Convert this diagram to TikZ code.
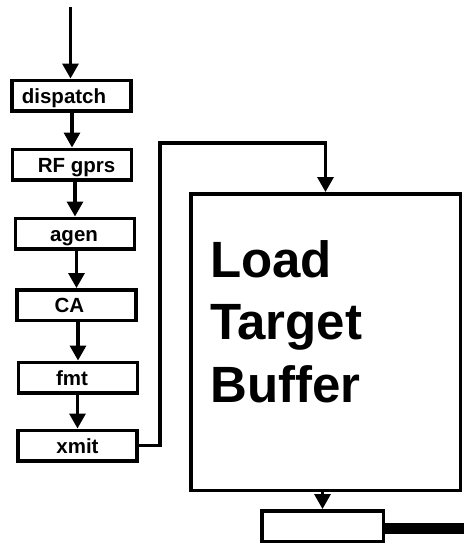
\documentclass[tikz,border=0pt]{standalone}
\usepackage{fontspec}
\setmainfont{Liberation Sans}
\usetikzlibrary{arrows.meta}
\begin{document}
\begin{tikzpicture}[x=1pt,y=-1pt,
  stagebox/.style={draw, line width=3.5pt, inner sep=0pt,
    minimum width=119pt, minimum height=30.5pt},
  stagetext/.style={inner sep=0pt, text height=15pt, text depth=0pt,
    font=\bfseries\fontsize{20.5}{24}\selectfont},
  flow/.style={line width=3.2pt, -{Triangle[length=15pt,width=16pt]}},
  wire/.style={line width=3pt}]
\useasboundingbox (0,0) rectangle (464,544);

% pipeline stages
\node[stagebox, label={[stagetext,xshift=-7.5pt]center:dispatch}] (dispatch) at (71.5,95.5) {};
\node[stagebox, label={[stagetext,xshift=4.5pt]center:RF gprs}] (rf) at (72,164.5) {};
\node[stagebox, label={[stagetext,xshift=-1pt]center:agen}] (agen) at (75,233.5) {};
\node[stagebox, label={[stagetext,xshift=-7pt]center:CA}] (ca) at (76.5,305) {};
\node[stagebox, label={[stagetext,xshift=-6pt]center:fmt}] (fmt) at (78,377.5) {};
\node[stagebox, label={[stagetext]center:xmit}] (xmit) at (77.5,445.5) {};

% load target buffer and its output slot
\node[draw, line width=3.5pt, inner sep=0pt, minimum width=269.5pt, minimum height=296.5pt] (ltb) at (325.5,342) {};
\node[anchor=base west, inner sep=0pt, align=left,
  font=\bfseries\fontsize{51}{62.5}\selectfont] (ltbtext) at (210,402) {Load\\Target\\Buffer};
\node[stagebox, minimum width=121.5pt] (slot) at (322.5,526) {};

% connectors
\coordinate (in) at (70.5,7);
\coordinate (bend) at (160,143);
\coordinate (busend) at (464,528.5);
\draw[flow] (in) -- (in |- dispatch.north);
\draw[flow] (dispatch.south -| rf.north) -- (rf.north);
\draw[flow] (rf.south -| agen.north) -- (agen.north);
\draw[flow] (agen.south -| ca.north) -- (ca.north);
\draw[flow] (ca.south -| fmt.north) -- (fmt.north);
\draw[flow] (fmt.south -| xmit.north) -- (xmit.north);
\draw[flow, line join=miter] (xmit.east) -| (bend) -| (ltb.north);
\draw[flow] (ltb.south -| slot.north) -- (slot.north);
\draw[line width=11pt] (slot.east |- busend) -- (busend);
\end{tikzpicture}
\end{document}
